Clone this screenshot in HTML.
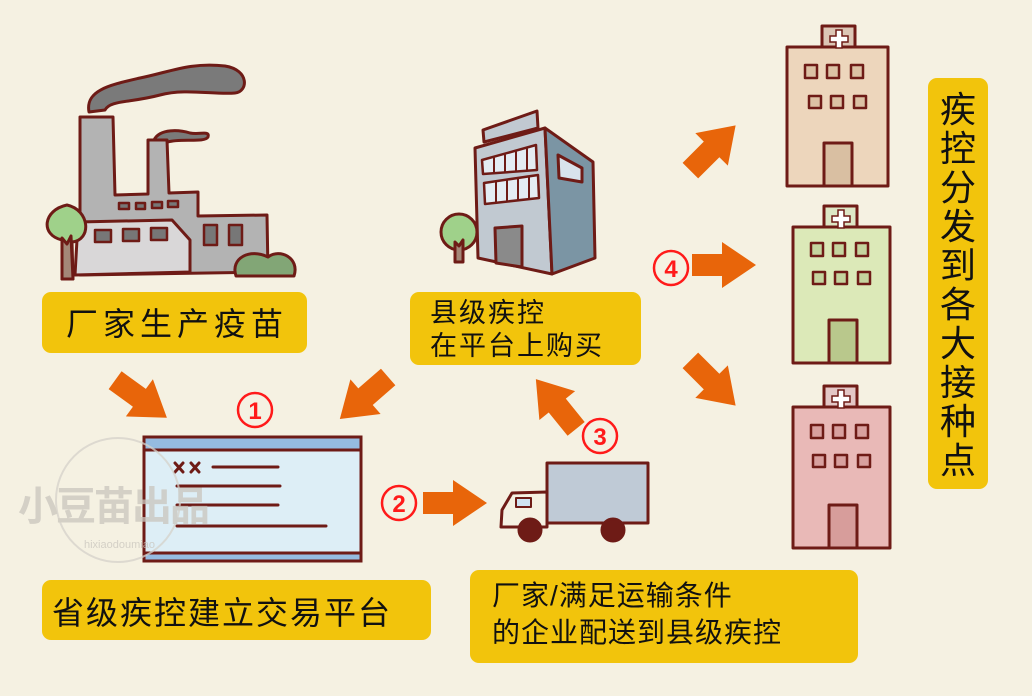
<!DOCTYPE html>
<html><head><meta charset="utf-8"><style>
body{margin:0;background:#f5f1e2;}
svg{display:block}
text{font-family:"Liberation Sans","Noto Sans CJK SC",sans-serif;}
</style></head><body>
<svg width="1032" height="696" viewBox="0 0 1032 696">
<defs>
<path id="arr" d="M-32,-11 L-2,-11 L-2,-23 L32,0 L-2,23 L-2,11 L-32,11 Z" fill="#e8650a"/>
</defs>
<rect width="1032" height="696" fill="#f5f1e2"/>
<g stroke="#6e1b16" stroke-width="3" stroke-linejoin="round" stroke-linecap="round">
<!-- factory -->
<path d="M89,112 C85,90 110,85 140,78 C170,72 190,62 225,66 C250,70 248,92 235,93 C215,95 185,88 160,95 C130,103 110,100 105,110 Z" fill="#7a7a7a"/>
<path d="M154,140 C160,128 180,130 190,133 C200,135 210,130 208,137 C205,143 180,138 168,142 Z" fill="#7a7a7a"/>
<path d="M80,117 L113,117 L115,195 L148,194 L148,140 L167,140 L169,193 L198,192 L198,216 L267,215 L268,272 L80,275 Z" fill="#b3b3b3"/>
<path d="M78,222 L172,220 L190,240 L190,272 L75,275 Z" fill="#d9d7d8"/>
<g fill="#777" stroke-width="2.5">
<rect x="119" y="203" width="10" height="6"/><rect x="136" y="203" width="9" height="6"/><rect x="152" y="202" width="10" height="6"/><rect x="168" y="201" width="10" height="6"/>
<rect x="95" y="230" width="16" height="12"/><rect x="123" y="229" width="16" height="12"/><rect x="151" y="228" width="16" height="12"/>
<rect x="204" y="225" width="13" height="20"/><rect x="229" y="225" width="13" height="20"/>
</g>
<path d="M62,279 L62,240 C40,235 43,210 67,205 C90,210 92,240 72,242 L73,279 Z" fill="#9fd18a"/>
<path d="M62,279 L62,238 L67,244 L71,236 L73,279 Z" fill="#a48878"/>
<path d="M236,276 C230,258 250,248 268,257 C280,248 300,258 294,276 Z" fill="#82a676"/>
<!-- county building -->
<path d="M483,130 L537,111 L538,128 L484,142 Z" fill="#c1c9d1"/>
<path d="M475,148 L545,128 L552,274 L478,258 Z" fill="#c1c9d1"/>
<path d="M545,128 L593,162 L595,258 L552,274 Z" fill="#7b95a4"/>
<path d="M558,155 L582,168 L582,182 L559,178 Z" fill="#d8e3ec"/>
<g fill="#e4ecf3" stroke-width="2.5">
<path d="M482,160 L536,145 L537,170 L483,174 Z"/><path d="M484,183 L538,175 L539,198 L485,204 Z"/>
</g>
<g stroke-width="2"><path d="M494,158 L494,173 M505,155 L505,172 M516,152 L516,171 M527,149 L527,170 M496,181 L496,203 M507,180 L507,201 M518,178 L518,200 M529,177 L529,199"/></g>
<path d="M495,228 L522,226 L522,267 L496,263 Z" fill="#8a8a8a"/>
<circle cx="459" cy="232" r="18" fill="#9fd18a"/>
<path d="M455,262 L455,242 L459,246 L463,240 L463,262 Z" fill="#a48878"/>
<!-- hospitals -->
<rect x="822" y="26" width="33" height="24" fill="#dcc6b5"/>
<rect x="787" y="47" width="101" height="139" fill="#edd6bc"/>
<g fill="#dcc1a4" stroke-width="2.5"><rect x="805" y="65" width="12" height="13"/><rect x="827" y="65" width="12" height="13"/><rect x="851" y="65" width="12" height="13"/><rect x="809" y="96" width="12" height="12"/><rect x="831" y="96" width="12" height="12"/><rect x="854" y="96" width="12" height="12"/></g>
<rect x="824" y="143" width="28" height="43" fill="#d9bfa2"/>
<rect x="824" y="206" width="33" height="24" fill="#dde7c6"/>
<rect x="793" y="227" width="97" height="136" fill="#dce9b8"/>
<g fill="#c5d49f" stroke-width="2.5"><rect x="811" y="243" width="12" height="13"/><rect x="833" y="243" width="12" height="13"/><rect x="856" y="243" width="12" height="13"/><rect x="813" y="272" width="12" height="12"/><rect x="835" y="272" width="12" height="12"/><rect x="858" y="272" width="12" height="12"/></g>
<rect x="829" y="320" width="28" height="43" fill="#b9c88c"/>
<rect x="824" y="386" width="33" height="24" fill="#e3c7c6"/>
<rect x="793" y="407" width="97" height="141" fill="#e9b9b7"/>
<g fill="#d8a09e" stroke-width="2.5"><rect x="811" y="425" width="12" height="13"/><rect x="833" y="425" width="12" height="13"/><rect x="856" y="425" width="12" height="13"/><rect x="813" y="455" width="12" height="12"/><rect x="835" y="455" width="12" height="12"/><rect x="858" y="455" width="12" height="12"/></g>
<rect x="829" y="505" width="28" height="43" fill="#d79d9b"/>
</g>
<g fill="#fff" stroke="#6e1b16" stroke-width="1.5">
<path d="M836,30 h6 v6 h6 v6 h-6 v6 h-6 v-6 h-6 v-6 h6 z"/>
<path d="M838,210 h6 v6 h6 v6 h-6 v6 h-6 v-6 h-6 v-6 h6 z"/>
<path d="M838,390 h6 v6 h6 v6 h-6 v6 h-6 v-6 h-6 v-6 h6 z"/>
</g>
<!-- window -->
<g stroke="#6e1b16" stroke-width="3">
<rect x="144" y="437" width="217" height="124" fill="#ddeef6"/>
<rect x="144" y="437" width="217" height="13" fill="#95bbe0"/>
<rect x="144" y="553" width="217" height="8" fill="#95bbe0"/>
<path d="M213,467 L278,467 M177,486 L280,486 M177,505 L278,505 M177,526 L326,526 M175,463 L183,472 M183,463 L175,472 M191,463 L199,472 M199,463 L191,472" fill="none" stroke-linecap="round"/>
</g>
<!-- watermark (over window) -->
<g opacity="0.75">
<circle cx="118" cy="500" r="62" fill="none" stroke="#d6d2ca" stroke-width="2"/>
<text x="18" y="520" font-size="40" font-weight="bold" fill="#c9c5bd" letter-spacing="-2">小豆苗出品</text>
<text x="84" y="548" font-size="11" fill="#c9c5bd">hixiaodoumiao</text>
</g>
<!-- truck -->
<g stroke="#6e1b16" stroke-width="3" stroke-linejoin="round">
<rect x="547" y="463" width="101" height="60" fill="#bfcad6"/>
<path d="M547,492 L512,493 L502,510 L501,527 L547,527 Z" fill="#f5f1e2"/>
<rect x="516" y="498" width="15" height="9" fill="#cfe3f2" stroke-width="2"/>
<circle cx="530" cy="530" r="11" fill="#6e1b16"/><circle cx="613" cy="530" r="11" fill="#6e1b16"/>
</g>
<!-- arrows -->
<use href="#arr" transform="translate(141,399) rotate(36)"/>
<use href="#arr" transform="translate(364,398) rotate(139)"/>
<use href="#arr" transform="translate(455,503)"/>
<use href="#arr" transform="translate(556,404) rotate(-129)"/>
<use href="#arr" transform="translate(713,148) rotate(-45)"/>
<use href="#arr" transform="translate(724,265)"/>
<use href="#arr" transform="translate(713,383) rotate(45)"/>
<!-- circled numbers -->
<g fill="none" stroke="#ff1a1a" stroke-width="2.5">
<circle cx="255" cy="410" r="17"/><circle cx="399" cy="503" r="17"/><circle cx="600" cy="436" r="17"/><circle cx="671" cy="268" r="17"/>
</g>
<g fill="#ff1a1a" font-size="24" font-weight="bold" text-anchor="middle">
<text x="255" y="419">1</text><text x="399" y="512">2</text><text x="600" y="445">3</text><text x="671" y="277">4</text>
</g>
<!-- label boxes -->
<g fill="#f2c40c">
<rect x="42" y="292" width="265" height="61" rx="9"/>
<rect x="410" y="292" width="231" height="73" rx="9"/>
<rect x="42" y="580" width="389" height="60" rx="9"/>
<rect x="470" y="570" width="388" height="93" rx="9"/>
<rect x="928" y="78" width="60" height="411" rx="9"/>
</g>
<g fill="#111">
<text x="66" y="335" font-size="32" letter-spacing="5">厂家生产疫苗</text>
<text x="430" y="322" font-size="27" letter-spacing="2">县级疾控</text>
<text x="430" y="355" font-size="27" letter-spacing="2">在平台上购买</text>
<text x="52" y="624" font-size="32" letter-spacing="2">省级疾控建立交易平台</text>
<text x="492" y="605" font-size="28" letter-spacing="1">厂家/满足运输条件</text>
<text x="492" y="642" font-size="28" letter-spacing="1">的企业配送到县级疾控</text>
<g font-size="36" text-anchor="middle">
<text x="958" y="122">疾</text><text x="958" y="161">控</text><text x="958" y="200">分</text><text x="958" y="239">发</text><text x="958" y="278">到</text><text x="958" y="317">各</text><text x="958" y="356">大</text><text x="958" y="395">接</text><text x="958" y="434">种</text><text x="958" y="473">点</text>
</g>
</g>
</svg>
</body></html>
